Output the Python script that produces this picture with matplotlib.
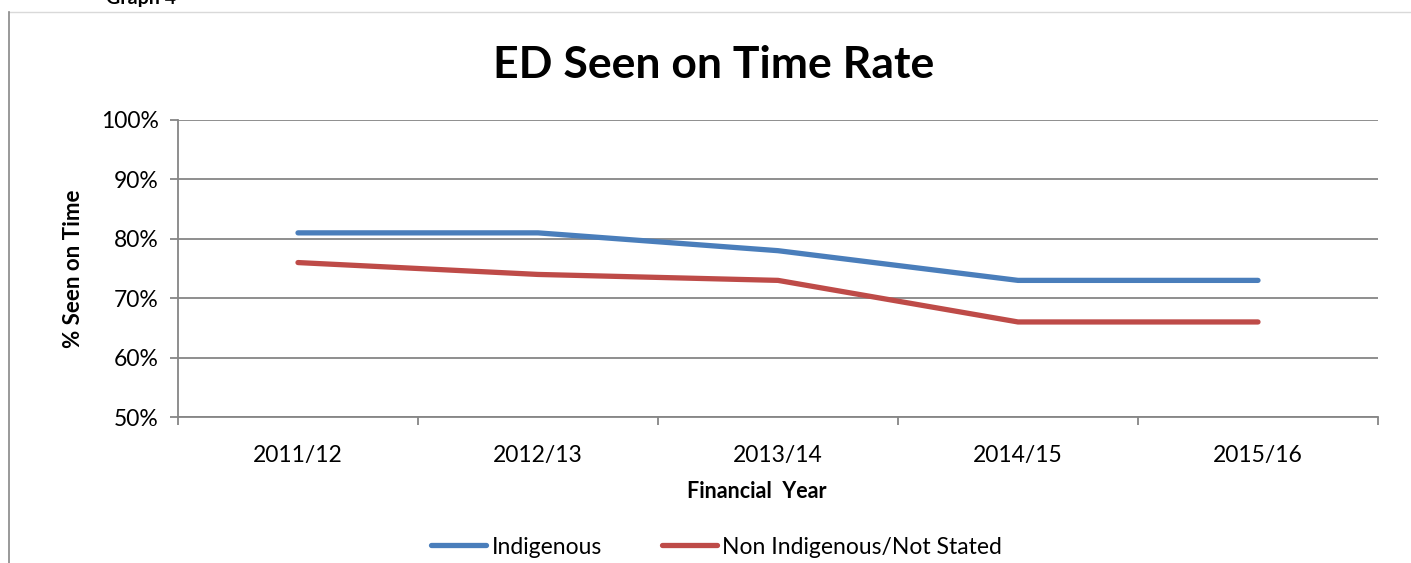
import matplotlib.pyplot as plt
from matplotlib.lines import Line2D

plt.rcParams['font.family'] = ['Lato', 'DejaVu Sans']

years = ['2011/12', '2012/13', '2013/14', '2014/15', '2015/16']
indigenous = [81, 81, 78, 73, 73]
non_indigenous = [76, 74, 73, 66, 66]
yticks = [50, 60, 70, 80, 90, 100]

fig = plt.figure(figsize=(14.11, 5.63), dpi=100)
ax = fig.add_axes([178 / 1411, 1 - 417 / 563, 1200 / 1411, 297 / 563])

x = range(len(years))
ax.plot(x, indigenous, color='#4a7ebb', lw=3.8, solid_capstyle='round',
        solid_joinstyle='round', label='Indigenous')
ax.plot(x, non_indigenous, color='#be4b48', lw=3.8, solid_capstyle='round',
        solid_joinstyle='round', label='Non Indigenous/Not Stated')

ax.set_xlim(-0.5, len(years) - 0.5)
ax.set_ylim(50, 100)
ax.set_yticks(yticks)
ax.set_yticklabels([f'{v}%' for v in yticks], fontsize=16.5)
ax.set_xticks(x)
ax.set_xticklabels(years, fontsize=16.5)
ax.tick_params(axis='x', length=0, pad=20)
ax.tick_params(axis='y', length=6, color='#868686', width=1.3, pad=8)
ax.set_xticks([i - 0.5 for i in range(len(years) + 1)], minor=True)
ax.tick_params(axis='x', which='minor', length=6, color='#868686', width=1.3)
ax.grid(axis='y', color='#868686', lw=1.3)
ax.set_axisbelow(True)
for s in ['top', 'right']:
    ax.spines[s].set_visible(False)
for s in ['left', 'bottom']:
    ax.spines[s].set_color('#868686')
    ax.spines[s].set_linewidth(1.3)

ax.set_xlabel('Financial  Year', fontsize=15.5, fontweight='bold')
ax.xaxis.set_label_coords(0.482, -0.215)
ax.set_ylabel('% Seen on Time', fontsize=16, fontweight='bold', labelpad=12)

fig.text(714 / 1411, 1 - 65 / 563, 'ED Seen on Time Rate', ha='center', va='center',
         fontsize=32, fontweight='bold')

# outer frame and cut-off caption
fig.add_artist(Line2D([9 / 1411, 1], [1 - 12 / 563, 1 - 12 / 563], color='#d9d9d9', lw=1))
fig.add_artist(Line2D([9 / 1411, 9 / 1411], [0, 1 - 12 / 563], color='#888888', lw=1.2))
fig.text(106 / 1411, 1 - 4 / 563, 'Graph 4', fontsize=14, fontweight='bold', va='baseline')

fig.legend(loc='center', bbox_to_anchor=(0.508, 1 - 547 / 563), ncol=2, frameon=False,
           fontsize=16.5, handlelength=2.4, columnspacing=2.6, handletextpad=0.25)

fig.savefig('out.png', dpi=100)
